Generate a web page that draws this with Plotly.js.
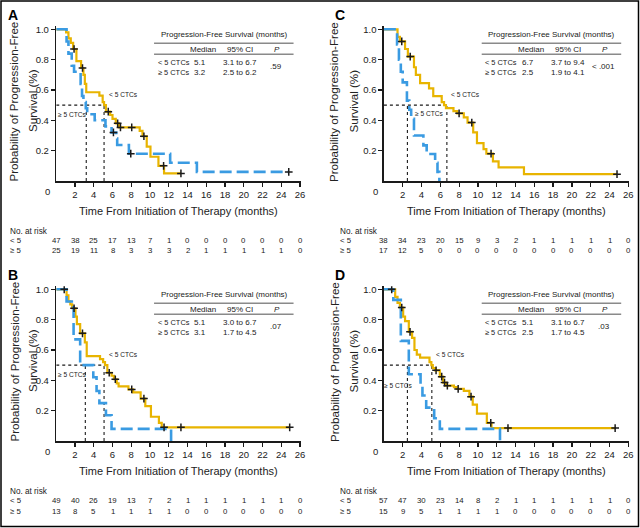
<!DOCTYPE html>
<html><head><meta charset="utf-8">
<script src="https://cdn.plot.ly/plotly-3.0.1.min.js"></script>
<style>html,body{margin:0;padding:0;background:#fff;}#chart{width:640px;height:528px;}</style>
</head><body><div id="chart"></div>
<script>
// ---------------- DATA ----------------
const timeTicks = [0,2,4,6,8,10,12,14,16,18,20,22,24,26];
const survTicks = [0.2,0.4,0.6,0.8,1.0];
const survTickText = ['0.2','0.4','0.6','0.8','1.0'];
const groups = ['< 5 CTCs','≥ 5 CTCs'];
const riskRowLabels = ['< 5','≥ 5'];

// Panel A
const aLt5Time = [0,1.05,1.3,1.55,1.8,2.15,2.65,2.9,3.05,3.2,4.6,4.95,5.1,5.3,5.75,6.0,6.35,6.7,8.9,9.2,9.65,10.05,10.9,11.5,13.3];
const aLt5Surv = [1.0,0.98,0.94,0.91,0.87,0.79,0.745,0.70,0.64,0.585,0.563,0.52,0.50,0.457,0.435,0.41,0.38,0.353,0.33,0.295,0.226,0.16,0.10,0.05,0.05];
const aLt5CensTime = [1.9,2.8,5.55,6.55,6.85,8.05,9.35,11.45,13.3];
const aLt5CensSurv = [0.87,0.745,0.457,0.38,0.353,0.353,0.295,0.10,0.05];
const aGe5Time = [0,1.1,1.3,1.65,1.9,2.6,2.75,2.9,3.15,3.3,4.1,5.25,5.9,6.4,6.5,7.75,12.15,15.0,24.8];
const aGe5Surv = [1.0,0.92,0.84,0.76,0.72,0.64,0.56,0.52,0.48,0.44,0.40,0.36,0.32,0.28,0.237,0.18,0.12,0.06,0.06];
const aGe5CensTime = [6.1,7.95,24.8];
const aGe5CensSurv = [0.32,0.18,0.06];
const aMedian = ['5.1','3.2'];
const aCI = ['3.1 to 6.7','2.5 to 6.2'];
const aP = '.59';
const aRiskLt5 = [47,38,25,17,13,7,1,0,0,0,0,0,0,0];
const aRiskGe5 = [25,19,11,8,3,3,3,2,1,1,1,1,1,0];

// Panel B
const bLt5Time = [0,1.1,1.3,1.5,1.7,2.05,2.2,2.55,3.05,3.25,4.67,5.0,5.2,5.45,5.9,6.15,6.45,6.65,7.7,8.2,9.0,9.5,10.1,10.95,11.25,24.9];
const bLt5Surv = [1.0,0.96,0.92,0.90,0.875,0.82,0.77,0.71,0.65,0.56,0.54,0.52,0.50,0.45,0.43,0.407,0.38,0.36,0.34,0.32,0.28,0.23,0.16,0.12,0.09,0.09];
const bLt5CensTime = [0.85,1.9,2.8,5.65,6.3,8.05,9.35,11.5,13.3,24.9];
const bLt5CensSurv = [1.0,0.875,0.71,0.45,0.407,0.34,0.28,0.09,0.09,0.09];
const bGe5Time = [0,1.1,1.85,2.55,3.95,4.3,4.6,5.3,5.9,12.25];
const bGe5Surv = [1.0,0.92,0.67,0.50,0.42,0.33,0.25,0.17,0.08,0.0];
const bGe5CensTime = [];
const bGe5CensSurv = [];
const bMedian = ['5.1','3.1'];
const bCI = ['3.0 to 6.7','1.7 to 4.5'];
const bP = '.07';
const bRiskLt5 = [49,40,26,19,13,7,2,1,1,1,1,1,1,0];
const bRiskGe5 = [13,8,5,1,1,1,1,0,0,0,0,0,0,0];

// Panel C
const cLt5Time = [0,1.45,1.7,2.25,2.55,3.2,3.4,3.85,4.8,5.25,6.15,6.4,6.6,7.4,7.8,8.5,8.9,9.5,9.9,10.6,10.9,11.6,12.2,14.9,24.8];
const cLt5Surv = [1.0,0.95,0.92,0.87,0.82,0.75,0.70,0.645,0.61,0.56,0.52,0.50,0.48,0.46,0.446,0.42,0.385,0.32,0.25,0.21,0.18,0.13,0.09,0.045,0.045];
const cLt5CensTime = [1.9,2.8,8.0,9.35,11.4,24.8];
const cLt5CensSurv = [0.92,0.82,0.446,0.385,0.18,0.045];
const cGe5Time = [0,1.4,1.6,1.8,2.0,2.45,2.7,2.9,3.2,4.2,4.55,5.45,5.7,5.9];
const cGe5Surv = [1.0,0.90,0.80,0.72,0.65,0.53,0.47,0.41,0.30,0.235,0.178,0.12,0.06,0.0];
const cGe5CensTime = [];
const cGe5CensSurv = [];
const cMedian = ['6.7','2.5'];
const cCI = ['3.7 to 9.4','1.9 to 4.1'];
const cP = '< .001';
const cRiskLt5 = [38,34,23,20,15,9,3,2,1,1,1,1,1,0];
const cRiskGe5 = [17,12,5,0,0,0,0,0,0,0,0,0,0,0];

// Panel D
const dLt5Time = [0,1.2,1.45,1.7,2.05,2.25,2.65,3.0,3.25,3.5,3.85,4.85,5.05,5.2,5.45,5.95,6.3,6.6,7.45,7.75,8.5,9.1,9.45,9.9,10.95,11.45,24.6];
const dLt5Surv = [1.0,0.95,0.91,0.88,0.82,0.79,0.72,0.68,0.60,0.57,0.55,0.52,0.50,0.48,0.466,0.424,0.385,0.365,0.355,0.343,0.33,0.292,0.24,0.18,0.12,0.085,0.085];
const dLt5CensTime = [0.83,1.9,2.78,5.55,6.15,6.45,6.75,7.9,9.27,11.37,13.2,24.6];
const dLt5CensSurv = [1.0,0.88,0.72,0.466,0.424,0.385,0.365,0.343,0.292,0.12,0.085,0.085];
const dGe5Time = [0,1.0,1.8,2.65,3.9,4.1,4.5,5.35,5.95,12.35];
const dGe5Surv = [1.0,0.93,0.66,0.44,0.37,0.30,0.22,0.15,0.08,0.0];
const dGe5CensTime = [];
const dGe5CensSurv = [];
const dMedian = ['5.1','2.5'];
const dCI = ['3.1 to 6.7','1.7 to 4.5'];
const dP = '.03';
const dRiskLt5 = [57,47,30,23,14,8,2,1,1,1,1,1,1,0];
const dRiskGe5 = [15,9,5,1,1,1,1,0,0,0,0,0,0,0];

// ---------------- STYLE / LAYOUT ----------------
const W = 640, H = 528, SY = 151.7;
const REG = "'Liberation Sans',Arial,Helvetica,sans-serif";
const YELLOW = '#e8b400';
const BLUE = '#3a9be2';
const INK = '#1a1a1a';

const panels = [
  {letter:'A', ox:56.25, oy:181, sx:9.375, t1:13.5, t2:32, riskX:8,
   lt5:[aLt5Time,aLt5Surv,aLt5CensTime,aLt5CensSurv], ge5:[aGe5Time,aGe5Surv,aGe5CensTime,aGe5CensSurv],
   med:aMedian, ci:aCI, p:aP, risk:[aRiskLt5,aRiskGe5], lt5Lab:[5.38,0.573,'left'], ge5Lab:[1.69,0.44,'center']},
  {letter:'C', ox:383.9, oy:181, sx:9.4, t1:334, t2:352.5, riskX:338,
   lt5:[cLt5Time,cLt5Surv,cLt5CensTime,cLt5CensSurv], ge5:[cGe5Time,cGe5Surv,cGe5CensTime,cGe5CensSurv],
   med:cMedian, ci:cCI, p:cP, risk:[cRiskLt5,cRiskGe5], lt5Lab:[6.96,0.569,'left'], ge5Lab:[4.8,0.446,'center']},
  {letter:'B', ox:56.25, oy:441, sx:9.375, t1:13.5, t2:32, riskX:8,
   lt5:[bLt5Time,bLt5Surv,bLt5CensTime,bLt5CensSurv], ge5:[bGe5Time,bGe5Surv,bGe5CensTime,bGe5CensSurv],
   med:bMedian, ci:bCI, p:bP, risk:[bRiskLt5,bRiskGe5], lt5Lab:[5.38,0.573,'left'], ge5Lab:[1.69,0.44,'center']},
  {letter:'D', ox:383.9, oy:441, sx:9.4, t1:334, t2:352.5, riskX:338,
   lt5:[dLt5Time,dLt5Surv,dLt5CensTime,dLt5CensSurv], ge5:[dGe5Time,dGe5Surv,dGe5CensTime,dGe5CensSurv],
   med:dMedian, ci:dCI, p:dP, risk:[dRiskLt5,dRiskGe5], lt5Lab:[5.33,0.573,'left'], ge5Lab:[1.57,0.363,'center']}
];

const px = v => v / W;
const py = v => 1 - v / H;

const traces = [], shapes = [], annotations = [];
const layout = {
  width: W, height: H, margin: {l:0, r:0, t:0, b:0},
  paper_bgcolor: '#ffffff', plot_bgcolor: 'rgba(0,0,0,0)',
  showlegend: false, font: {family: REG, color: INK}
};

function ann(o) { annotations.push(Object.assign({showarrow:false, xref:'paper', yref:'paper'}, o)); }

panels.forEach((p, i) => {
  const n = i === 0 ? '' : String(i + 1);
  const xa = 'x' + n, ya = 'y' + n;
  const xEnd = p.ox + 26.1 * p.sx;
  layout['xaxis' + n] = {
    domain: [px(p.ox), px(xEnd)], range: [0, 26.1], anchor: ya,
    tickvals: timeTicks.slice(1), ticktext: timeTicks.slice(1).map(String),
    ticks: 'outside', ticklen: 4, tickwidth: 1.2, tickcolor: INK,
    showline: true, linecolor: INK, linewidth: 1.5, showgrid: false, zeroline: false,
    tickfont: {size: 9.5, family: REG, color: INK}, fixedrange: true
  };
  layout['yaxis' + n] = {
    domain: [py(p.oy), py(p.oy - 1.02 * SY)], range: [0, 1.02], anchor: xa,
    tickvals: survTicks, ticktext: survTickText,
    ticks: 'outside', ticklen: 4, tickwidth: 1.2, tickcolor: INK,
    showline: true, linecolor: INK, linewidth: 1.5, showgrid: false, zeroline: false,
    tickfont: {size: 9.5, family: REG, color: INK}, fixedrange: true
  };

  // median reference lines (dotted)
  const mLt5 = parseFloat(p.med[0]), mGe5 = parseFloat(p.med[1]);
  const dotted = {type:'line', xref:xa, yref:ya, layer:'below', line:{color:INK, width:1.1, dash:'dot'}};
  shapes.push(Object.assign({}, dotted, {x0:0, x1:Math.max(mLt5, mGe5), y0:0.5, y1:0.5}));
  shapes.push(Object.assign({}, dotted, {x0:mLt5, x1:mLt5, y0:0, y1:0.5}));
  shapes.push(Object.assign({}, dotted, {x0:mGe5, x1:mGe5, y0:0, y1:0.5}));

  // curves
  traces.push({x:p.lt5[0], y:p.lt5[1], xaxis:xa, yaxis:ya, mode:'lines', name:groups[0],
    line:{shape:'hv', color:YELLOW, width:2.2}, hoverinfo:'skip'});
  traces.push({x:p.ge5[0], y:p.ge5[1], xaxis:xa, yaxis:ya, mode:'lines', name:groups[1],
    line:{shape:'hv', color:BLUE, width:2.6, dash:'12px,5px'}, hoverinfo:'skip'});
  const cx = p.lt5[2].concat(p.ge5[2]), cy = p.lt5[3].concat(p.ge5[3]);
  traces.push({x:cx, y:cy, xaxis:xa, yaxis:ya, mode:'markers', name:'Censored',
    marker:{symbol:'cross-thin', size:5.5, color:INK, line:{width:1.5, color:INK}}, hoverinfo:'skip'});

  // in-plot group labels
  annotations.push({xref:xa, yref:ya, x:p.lt5Lab[0], y:p.lt5Lab[1], xanchor:p.lt5Lab[2], yanchor:'middle',
    text:'&lt; 5 CTCs', showarrow:false, font:{size:6.6, family:REG, color:INK}});
  annotations.push({xref:xa, yref:ya, x:p.ge5Lab[0], y:p.ge5Lab[1], xanchor:p.ge5Lab[2], yanchor:'middle',
    text:'≥ 5 CTCs', showarrow:false, font:{size:6.6, family:REG, color:INK}});

  // panel letter
  ann({x:px(p.ox - 43.75), y:py(p.oy - 166.5), xanchor:'center', yanchor:'middle', text:'<b>' + p.letter + '</b>',
    font:{size:14, family:REG, color:'#000'}});

  // origin "0"
  ann({x:px(p.ox - 8.5), y:py(p.oy + 10.7), xanchor:'center', yanchor:'middle', text:'0',
    font:{size:9.5, family:REG, color:INK}});

  // axis titles
  ann({x:px(p.ox + 13.05 * p.sx), y:py(p.oy + 29.7), xanchor:'center', yanchor:'middle',
    text:'Time From Initiation of Therapy (months)', font:{size:11, family:REG, color:'#222'}});
  ann({x:px(p.t1), y:py(p.oy - 79), xanchor:'center', yanchor:'middle', textangle:-90,
    text:'Probability of Progression-Free', font:{size:11.6, family:REG, color:'#222'}});
  ann({x:px(p.t2), y:py(p.oy - 80), xanchor:'center', yanchor:'middle', textangle:-90,
    text:'Survival (%)', font:{size:11.6, family:REG, color:'#222'}});

  // summary table
  const tf = {size:8, family:REG, color:INK};
  const tl = {size:7.4, family:REG, color:INK};
  const T = (dx, dy, text, xanchor, f) => ann({x:px(p.ox + dx), y:py(p.oy + dy), xanchor:xanchor, yanchor:'middle', text:text, font:f || tf});
  T(168, -146.7, 'Progression-Free Survival (months)', 'center');
  T(147, -131.7, 'Median', 'center');
  T(183.8, -131.7, '95% CI', 'center');
  T(221, -131.7, '<i>P</i>', 'center');
  T(99.5, -119, '&lt; 5 CTCs', 'left', tl);
  T(99.5, -109, '≥ 5 CTCs', 'left', tl);
  T(144, -119, p.med[0], 'center');
  T(144, -109, p.med[1], 'center');
  T(183.8, -119, p.ci[0], 'center');
  T(183.8, -109, p.ci[1], 'center');
  T(220, -114.3, p.p.replace('<', '&lt;'), 'center');
  [-137.7, -126.7].forEach(dy => shapes.push({type:'line', xref:'paper', yref:'paper',
    x0:px(p.ox + 97.8), x1:px(p.ox + 237.3), y0:py(p.oy + dy), y1:py(p.oy + dy),
    line:{color:'#8a8a8a', width:1.5}}));

  // number at risk
  const rf = {size:7.8, family:REG, color:INK};
  ann({x:px(p.riskX), y:py(p.oy + 50), xanchor:'left', yanchor:'middle', text:'No. at risk', font:{size:8.2, family:REG, color:INK}});
  [0, 1].forEach(r => {
    const yy = py(p.oy + (r === 0 ? 59.7 : 70));
    ann({x:px(p.riskX), y:yy, xanchor:'left', yanchor:'middle', text:riskRowLabels[r].replace('<', '&lt;'), font:rf});
    p.risk[r].forEach((v, k) => annotations.push({xref:xa, yref:'paper', x:timeTicks[k], y:yy,
      xanchor:'center', yanchor:'middle', text:String(v), showarrow:false, font:rf}));
  });
});

// outer frame
shapes.push({type:'rect', xref:'paper', yref:'paper', x0:px(1), x1:px(638.5), y0:py(526.5), y1:py(1),
  line:{color:'#000', width:1.5}, fillcolor:'rgba(0,0,0,0)'});

layout.shapes = shapes;
layout.annotations = annotations;
Plotly.newPlot('chart', traces, layout, {displayModeBar:false, staticPlot:true});
</script></body></html>
